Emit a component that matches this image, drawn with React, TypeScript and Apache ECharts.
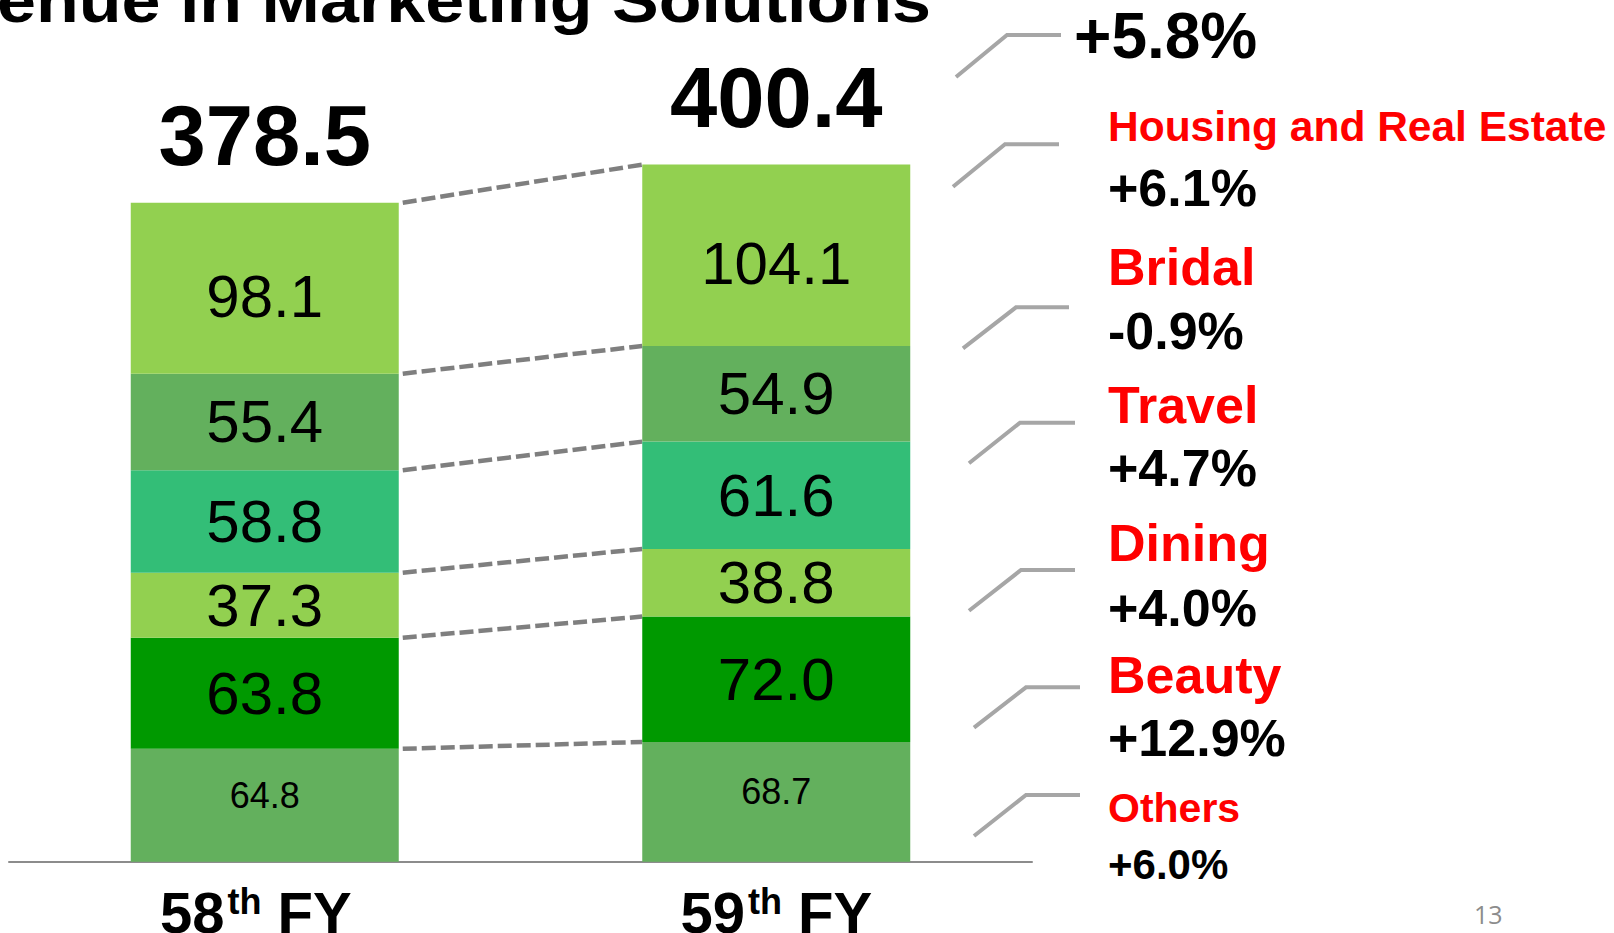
import React, { useEffect, useRef } from "react";
import * as echarts from "echarts";

const FONT = "'Liberation Sans', Arial, sans-serif";

// ---- data ----
const years = ["58", "59"];
const segmentNames = ["Others", "Beauty", "Dining", "Travel", "Bridal", "Housing and Real Estate"];
const others = [64.8, 68.7];
const beauty = [63.8, 72.0];
const dining = [37.3, 38.8];
const travel = [58.8, 61.6];
const bridal = [55.4, 54.9];
const housing = [98.1, 104.1];
const totals = [378.5, 400.4];
const growth = ["+6.0%", "+12.9%", "+4.0%", "+4.7%", "-0.9%", "+6.1%"];
const totalGrowth = "+5.8%";
const titleText = "Revenue in Marketing Solutions";
const pageNumber = "13";

const segColors = ["#63B05D", "#009900", "#92D050", "#33BE77", "#63B05D", "#92D050"];
const segData = [others, beauty, dining, travel, bridal, housing];

const BAR_W = 268;

export default function App() {
  const ref = useRef<HTMLDivElement>(null);

  useEffect(() => {
    if (!ref.current) return;
    const chart = echarts.init(ref.current, null, { renderer: "svg" });

    // cumulative boundaries for connectors
    const boundaries: number[][] = [];
    let cl = 0;
    let cr = 0;
    segData.forEach((d) => {
      cl += d[0];
      cr += d[1];
      boundaries.push([0, cl, cr]);
    });

    const labelOffsets = [-10, 0, 0, 0, 0, 8];
    const labelSizes = [36, 60, 60, 60, 60, 60];

    const barSeries = segData.map((d, i) => ({
      name: segmentNames[i],
      type: "bar",
      stack: "total",
      barWidth: BAR_W,
      data: d,
      itemStyle: { color: segColors[i] },
      label: {
        show: true,
        position: "inside",
        offset: [0, labelOffsets[i]],
        color: "#000",
        fontFamily: FONT,
        fontSize: labelSizes[i],
        formatter: (p: any) => p.value.toFixed(1),
      },
      emphasis: { disabled: true },
      silent: true,
    }));

    // annotation layout (right side)
    const annY = [
      { label: 808.0, val: 864.3, lsize: 41, vsize: 42 },
      { label: 674.7, val: 738.1, lsize: 52, vsize: 52 },
      { label: 543.1, val: 608.1, lsize: 52, vsize: 52 },
      { label: 404.7, val: 468.1, lsize: 52, vsize: 52 },
      { label: 267.1, val: 331.4, lsize: 52, vsize: 52 },
      { label: 126.7, val: 188.1, lsize: 42.5, vsize: 52 },
    ];
    const brackets = [
      [[974, 836], [1026, 795], [1080, 795]],
      [[974, 727.7], [1026, 687.3], [1080, 687.3]],
      [[969, 610.7], [1021, 570], [1075, 570]],
      [[969, 463.3], [1020, 422.7], [1075, 422.7]],
      [[963, 348.3], [1016, 307.3], [1069, 307.3]],
      [[953, 186.7], [1005, 144.3], [1059, 144.3]],
    ];
    const totalBracket = [[956, 77], [1007, 35], [1061, 35]];

    const graphics: any[] = [];
    graphics.push({
      type: "text",
      x: 931,
      y: 0,
      scaleX: 1.13,
      style: {
        text: titleText,
        fontFamily: FONT,
        fontWeight: "bold",
        fontSize: 62,
        fill: "#000",
        align: "right",
        verticalAlign: "middle",
      },
    });
    graphics.push({
      type: "polyline",
      shape: { points: totalBracket },
      style: { stroke: "#A6A6A6", lineWidth: 4, fill: null },
    });
    graphics.push({
      type: "text",
      x: 1074,
      y: 36.1,
      style: {
        text: totalGrowth,
        fontFamily: FONT,
        fontWeight: "bold",
        fontSize: 64,
        fill: "#000",
        align: "left",
        verticalAlign: "middle",
      },
    });
    segmentNames.forEach((name, i) => {
      graphics.push({
        type: "polyline",
        shape: { points: brackets[i] },
        style: { stroke: "#A6A6A6", lineWidth: 4, fill: null },
      });
      graphics.push({
        type: "text",
        x: 1108,
        y: annY[i].label,
        style: {
          text: name,
          fontFamily: FONT,
          fontWeight: "bold",
          fontSize: annY[i].lsize,
          fill: "#FF0000",
          align: "left",
          verticalAlign: "middle",
        },
      });
      graphics.push({
        type: "text",
        x: 1108,
        y: annY[i].val,
        style: {
          text: growth[i],
          fontFamily: FONT,
          fontWeight: "bold",
          fontSize: annY[i].vsize,
          fill: "#000",
          align: "left",
          verticalAlign: "middle",
        },
      });
    });
    graphics.push({
      type: "text",
      x: 1474,
      y: 914,
      style: {
        text: pageNumber,
        fontFamily: "'Open Sans', 'Noto Sans', sans-serif",
        fontSize: 25,
        fill: "#8C8C8C",
        align: "left",
        verticalAlign: "middle",
      },
    });

    chart.setOption({
      animation: false,
      grid: { left: 9, right: 582, top: 77.65, bottom: 71.3, outerBoundsMode: "none", containLabel: false },
      xAxis: {
        type: "category",
        data: years,
        axisLine: { lineStyle: { color: "#8C8C8C", width: 2 } },
        axisTick: { show: false },
        axisLabel: {
          margin: 22,
          formatter: (v: string, idx: number) =>
            idx === 0 ? `{n|${v}}{s|th}{n| FY}{p|}` : `{n|${v}}{s|th}{n| FY}`,
          rich: {
            n: { fontFamily: FONT, fontWeight: "bold", fontSize: 58, color: "#000" },
            s: {
              fontFamily: FONT,
              fontWeight: "bold",
              fontSize: 36,
              color: "#000",
              padding: [0, 0, 22, 3],
            },
            p: { width: 18 },
          },
        },
      },
      yAxis: {
        type: "value",
        min: 0,
        max: 450,
        show: false,
        splitLine: { show: false },
      },
      series: [
        ...barSeries,
        {
          type: "custom",
          silent: true,
          data: boundaries,
          encode: { x: 0, y: [1, 2] },
          renderItem: (params: any, api: any) => {
            const a = api.coord([0, api.value(1)]);
            const b = api.coord([1, api.value(2)]);
            const half = BAR_W / 2;
            return {
              type: "line",
              shape: { x1: a[0] + half + 4, y1: a[1], x2: b[0] - half, y2: b[1] },
              style: { stroke: "#7F7F7F", lineWidth: 4.5, lineDash: [14, 5] },
            };
          },
        },
        {
          type: "scatter",
          silent: true,
          data: totals,
          symbolSize: 0,
          itemStyle: { color: "transparent", opacity: 1 },
          label: {
            show: true,
            position: "inside",
            offset: [0, -67],
            color: "#000",
            opacity: 1,
            fontFamily: FONT,
            fontWeight: "bold",
            fontSize: 85,
            formatter: (p: any) => p.value.toFixed(1),
          },
        },
      ],
      graphic: graphics,
    });

    return () => chart.dispose();
  }, []);

  return (
    <div
      ref={ref}
      style={{ position: "fixed", left: 0, top: 0, width: 1614, height: 933, background: "#fff" }}
    />
  );
}
